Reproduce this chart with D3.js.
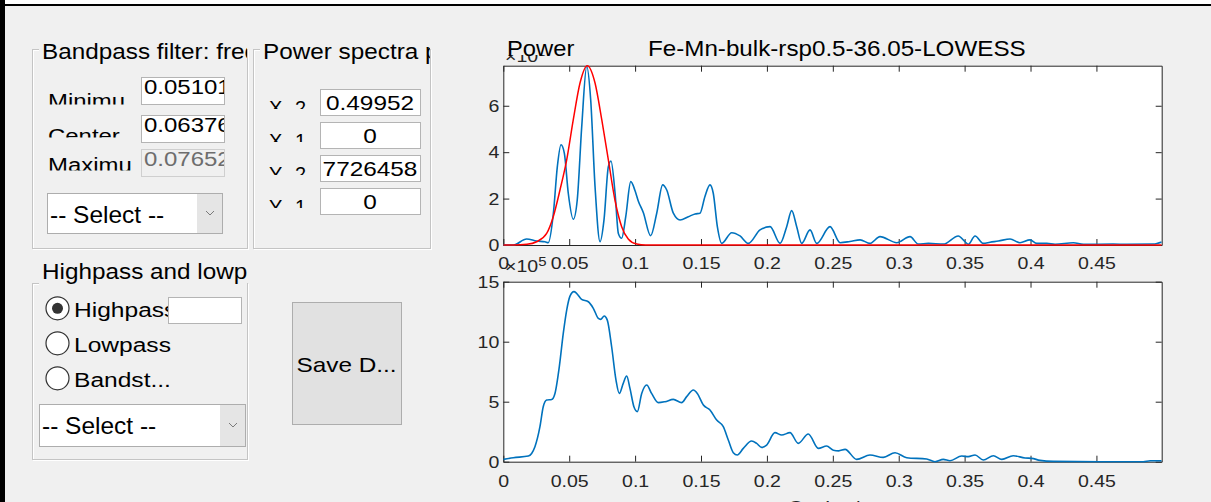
<!DOCTYPE html>
<html><head><meta charset="utf-8">
<script src="https://cdn.jsdelivr.net/npm/d3@7/dist/d3.min.js"></script>
<style>
html,body{margin:0;padding:0;background:#f0f0f0;}
svg{display:block;font-family:"Liberation Sans",Arial,Helvetica,sans-serif;}
</style></head><body>
<svg id="fig" width="1211" height="502"></svg>
<script>
// ---------- data ----------
const freqTicks = [0, 0.05, 0.1, 0.15, 0.2, 0.25, 0.3, 0.35, 0.4, 0.45];
const freqTickLabels = ["0", "0.05", "0.1", "0.15", "0.2", "0.25", "0.3", "0.35", "0.4", "0.45"];
const freqLimits = [0, 0.49952];
const powerLimits = [0, 7.726458];          // x 10^6
const powerTicks = [0, 2, 4, 6];
const smoothLimits = [0, 15];               // x 10^5
const smoothTicks = [0, 5, 10, 15];

// power spectrum (x 10^6)
const powerFreq = [0, 0.0076, 0.0177, 0.0253, 0.0316, 0.0341, 0.038, 0.041, 0.0438, 0.0463,
  0.0493, 0.0531, 0.0561, 0.0595, 0.0633, 0.0663, 0.0696, 0.0734, 0.0764, 0.0797,
  0.0817, 0.0848, 0.0873, 0.0898, 0.0929, 0.0967, 0.0999, 0.1024, 0.1062, 0.1118,
  0.1164, 0.1209, 0.124, 0.129, 0.1341, 0.1404, 0.1455, 0.1492, 0.153, 0.1568,
  0.1593, 0.1624, 0.1657, 0.1733, 0.1796, 0.1859, 0.1948, 0.2024, 0.21, 0.215,
  0.2188, 0.2226, 0.2264, 0.2327, 0.2378, 0.2479, 0.2555, 0.263, 0.2707, 0.2782,
  0.2858, 0.2985, 0.3086, 0.3149, 0.3225, 0.3338, 0.3452, 0.3503, 0.3528, 0.3579,
  0.3642, 0.3693, 0.3756, 0.3845, 0.392, 0.3996, 0.4047, 0.4123, 0.4186, 0.4325,
  0.4401, 0.4626, 0.473, 0.4932, 0.4995];
const powerValues = [0, 0, 0.26, 0.17, 0.14, 0.1, 1.37, 3.38, 4.32, 3.96,
  2.23, 1.11, 1.94, 5.1, 7.7, 6.26, 2.52, 0.14, 1.08, 3.38,
  3.62, 2.23, 0.5, 0.29, 1.22, 2.73, 2.35, 1.9, 1.4, 0.4,
  1.37, 2.59, 2.37, 1.37, 1.08, 1.22, 1.34, 1.37, 2.09, 2.59,
  2.23, 0.79, 0.07, 0.53, 0.39, 0.07, 0.65, 0.79, 0.07, 0.79,
  1.48, 0.79, 0.07, 0.65, 0.07, 0.79, 0.1, 0.15, 0.22, 0.07,
  0.36, 0.1, 0.36, 0.04, 0.07, 0.04, 0.39, 0.14, 0.03, 0.39,
  0.07, 0.12, 0.17, 0.26, 0.1, 0.22, 0.07, 0.07, 0.03, 0.1,
  0.03, 0.04, 0.03, 0.04, 0.13];

// bandpass filter response (x 10^6)
const filterFreq = [0, 0.0076, 0.018, 0.0253, 0.0329, 0.0379, 0.043, 0.0481, 0.0531, 0.0582,
  0.0637, 0.0696, 0.0747, 0.0797, 0.0847, 0.0898, 0.0948, 0.1012, 0.108, 0.49952];
const filterValues = [0, 0, 0.03, 0.14, 0.5, 1.22, 2.37, 3.67, 5.4, 6.98,
  7.726458, 6.98, 5.4, 3.67, 1.94, 0.79, 0.26, 0.04, 0, 0];

// smoothed spectrum (x 10^5)
const smoothFreq = [0, 0.0076, 0.019, 0.0215, 0.024, 0.0278, 0.0303, 0.0329, 0.0367, 0.0392,
  0.0425, 0.0455, 0.0481, 0.0506, 0.0536, 0.0556, 0.0594, 0.0645, 0.0683, 0.0721,
  0.0738, 0.0766, 0.0789, 0.0822, 0.0855, 0.088, 0.091, 0.0936, 0.0961, 0.0991,
  0.1017, 0.105, 0.1088, 0.1125, 0.1176, 0.1227, 0.129, 0.1353, 0.1391, 0.1442,
  0.1472, 0.1518, 0.1568, 0.1619, 0.1669, 0.1707, 0.1745, 0.1775, 0.1821, 0.1884,
  0.1922, 0.196, 0.1998, 0.2061, 0.2112, 0.2175, 0.2238, 0.2314, 0.239, 0.2453,
  0.2504, 0.2545, 0.2593, 0.2681, 0.2782, 0.2883, 0.2972, 0.3061, 0.3212, 0.3275,
  0.3338, 0.3389, 0.3478, 0.3528, 0.3579, 0.3642, 0.3718, 0.3782, 0.3869, 0.3958,
  0.4009, 0.4072, 0.4173, 0.4527, 0.4856, 0.4907, 0.4995];
const smoothValues = [0.19, 0.33, 0.47, 0.69, 1.25, 2.92, 4.58, 5.14, 5.19, 5.69,
  7.92, 10.69, 12.64, 13.8, 14.17, 14.03, 13.53, 13.33, 12.78, 11.94,
  11.86, 12.14, 11.8, 9.58, 6.8, 5.69, 6.53, 7.14, 6.11, 4.58,
  4.17, 5.69, 6.39, 5.69, 4.92, 5.0, 5.19, 4.92, 5.42, 5.97,
  5.69, 4.72, 4.31, 3.47, 2.92, 1.81, 0.75, 0.56, 1.11, 1.72,
  1.53, 1.19, 1.39, 2.42, 2.22, 2.42, 1.53, 2.31, 1.11, 1.31,
  0.95, 0.9, 1.03, 0.19, 0.56, 0.36, 0.75, 0.33, 0.22, 0.0,
  0.19, 0.08, 0.47, 0.42, 0.56, 0.14, 0.5, 0.19, 0.5, 0.31,
  0.28, 0.11, 0.03, 0.0, 0.0, 0.08, 0.08];

// control panel contents
const bandpassLabels = ["Minimu", "Center", "Maximu"];
const bandpassValues = ["0.05101", "0.06376", "0.07652"];
const limitLabels = [["X", "2"], ["X", "1"], ["Y", "2"], ["Y", "1"]];
const limitValues = ["0.49952", "0", "7726458", "0"];
const filterModes = ["Highpass", "Lowpass", "Bandst..."];

// ---------- helpers ----------
const svg = d3.select("#fig");
const defs = svg.append("defs");
let clipId = 0;
function clip(x, y, w, h) {
  const id = "c" + (clipId++);
  defs.append("clipPath").attr("id", id).append("rect")
    .attr("x", x).attr("y", y).attr("width", w).attr("height", h);
  return `url(#${id})`;
}
// text drawn slightly widened horizontally, like the GUI renderer
function txt(parent, x, y, s, o = {}) {
  return parent.append("text")
    .attr("transform", `translate(${x},${y}) scale(${o.sx ?? 1.15},1)`)
    .attr("font-size", o.size ?? 21)
    .attr("text-anchor", o.anchor ?? "start")
    .attr("fill", o.fill ?? "#000")
    .text(s);
}
const BG = "#f0f0f0";

// window background and frame
svg.append("rect").attr("width", 1211).attr("height", 502).attr("fill", BG);
svg.append("rect").attr("width", 1211).attr("height", 4).attr("fill", "#fff");
svg.append("rect").attr("y", 4).attr("width", 1211).attr("height", 2).attr("fill", "#000");
svg.append("rect").attr("width", 5).attr("height", 502).attr("fill", "#000");

// ---------- uipanels ----------
function panel(x, y, w, h, title, titleBaseline) {
  const g = svg.append("g");
  g.append("rect").attr("x", x + 0.5).attr("y", y + 0.5).attr("width", w).attr("height", h)
    .attr("fill", "none").attr("stroke", "#fff");
  g.append("rect").attr("x", x - 0.5).attr("y", y - 0.5).attr("width", w).attr("height", h)
    .attr("fill", "none").attr("stroke", "#c4c4c4");
  const tg = g.append("g").attr("clip-path", clip(x + 6, titleBaseline - 22, w - 7, 30));
  tg.append("rect").attr("x", x + 6).attr("y", titleBaseline - 22).attr("width", w).attr("height", 30).attr("fill", BG);
  txt(tg, x + 9, titleBaseline, title, { size: 21.5, sx: 1.13 });
  return g;
}
function editBox(g, x, y, w, h, value, o = {}) {
  g.append("rect").attr("x", x + 0.5).attr("y", y + 0.5).attr("width", w).attr("height", h)
    .attr("fill", o.disabled ? BG : "#fff").attr("stroke", o.disabled ? "#cfcfcf" : "#b4b4b4");
  if (value !== undefined) {
    const tg = g.append("g").attr("clip-path", clip(x + 1, y + 1, w - 1, h - 1));
    txt(tg, o.anchor === "middle" ? x + w / 2 : x + 3, y + (o.base ?? 17), value,
      { size: o.size ?? 19, sx: o.sx ?? 1.16, anchor: o.anchor ?? "start", fill: o.disabled ? "#6d6d6d" : "#000" });
  }
}
function dropDown(g, x, y, w, h, label) {
  g.append("rect").attr("x", x + 0.5).attr("y", y + 0.5).attr("width", w).attr("height", h)
    .attr("fill", "#fff").attr("stroke", "#adadad");
  g.append("rect").attr("x", x + w - 25).attr("y", y + 1).attr("width", 25).attr("height", h - 1)
    .attr("fill", "#e5e5e5");
  const cx = x + w - 12, cy = y + h / 2;
  g.append("path").attr("d", `M${cx - 4},${cy - 2}L${cx},${cy + 2}L${cx + 4},${cy - 2}`)
    .attr("fill", "none").attr("stroke", "#7a7a7a").attr("stroke-width", 1);
  txt(g, x + 3, y + 30, label, { size: 24, sx: 1.02 });
}

// Bandpass filter panel
const p1 = panel(33, 50, 215, 199, "Bandpass filter: frequency", 59);
const labelTops = [92.7, 128.3, 156.7], labelClipBottom = [104.5, 137.5, 170.5];
const boxTops = [77, 115, 149];
bandpassLabels.forEach((s, i) => {
  const cg = p1.append("g").attr("clip-path", clip(40, labelTops[i] - 5, 95, labelClipBottom[i] - labelTops[i] + 5));
  txt(cg, 48, labelTops[i] + 15, s, { size: 21, sx: 1.14 });
  editBox(p1, 141, boxTops[i], 83, 27, bandpassValues[i], { disabled: i === 2, base: 17, size: 20.5, sx: 1.17 });
});
dropDown(p1, 47, 193, 175, 40, "-- Select --");

// Power spectra plot-limits panel
const p2 = panel(254, 50, 177, 199, "Power spectra plot", 59);
const rowTops = [89, 122, 155, 188];
limitLabels.forEach((pair, i) => {
  const top = rowTops[i] + 11;
  const cg = p2.append("g").attr("clip-path", clip(262, top - 4, 56, 13));
  txt(cg, 269, top + 15, pair[0], { size: 21, sx: 0.95 });
  txt(cg, 295, top + 15, pair[1], { size: 21, sx: 0.95 });
  editBox(p2, 320, rowTops[i], 100, 26, limitValues[i], { anchor: "middle", size: 21, sx: 1.16, base: 21 });
});

// Highpass / lowpass panel
const p3 = panel(33, 284, 215, 176, "Highpass and lowpass", 279);
const radioY = [308.3, 343.3, 378.3];
filterModes.forEach((s, i) => {
  p3.append("circle").attr("cx", 57.5).attr("cy", radioY[i]).attr("r", 11.5)
    .attr("fill", "#fff").attr("stroke", "#333").attr("stroke-width", 1.2);
  if (i === 0) p3.append("circle").attr("cx", 57.5).attr("cy", radioY[i]).attr("r", 5.5).attr("fill", "#333");
  txt(p3, 74, radioY[i] + 8.4, s, { size: 21, sx: 1.17 });
});
editBox(p3, 168, 297, 73, 26);
dropDown(p3, 39, 404, 206, 42, "-- Select --");

// Save button
svg.append("rect").attr("x", 292.5).attr("y", 302.5).attr("width", 109).attr("height", 122)
  .attr("fill", "#e1e1e1").attr("stroke", "#adadad");
txt(svg, 346.5, 372, "Save D...", { size: 21, sx: 1.16, anchor: "middle" });

// ---------- axes ----------
const AX = { left: 503.3, right: 1161.7 };
const x = d3.scaleLinear().domain(freqLimits).range([AX.left, AX.right]);
const yTop = d3.scaleLinear().domain(powerLimits).range([245, 65.7]);
const yBot = d3.scaleLinear().domain(smoothLimits).range([461.7, 281.7]);
const AXIS_COLOR = "#262626";

function drawAxes(y, yTicks, padX) {
  const [y0, y1] = y.range();
  const g = svg.append("g");
  g.append("rect").attr("x", AX.left).attr("y", y1).attr("width", AX.right - AX.left).attr("height", y0 - y1)
    .attr("fill", "#fff");
  const fmtX = (d, i) => freqTickLabels[i];
  const bottom = g.append("g").attr("transform", `translate(0,${y0})`)
    .call(d3.axisBottom(x).tickValues(freqTicks).tickFormat(fmtX).tickSizeInner(-6).tickSizeOuter(0).tickPadding(padX));
  const left = g.append("g").attr("transform", `translate(${AX.left},0)`)
    .call(d3.axisLeft(y).tickValues(yTicks).tickSizeInner(-6).tickSizeOuter(0).tickPadding(3.5));
  const top = g.append("g").attr("transform", `translate(0,${y1})`)
    .call(d3.axisTop(x).tickValues(freqTicks).tickFormat("").tickSizeInner(-6).tickSizeOuter(0));
  const right = g.append("g").attr("transform", `translate(${AX.right},0)`)
    .call(d3.axisRight(y).tickValues(yTicks).tickFormat("").tickSizeInner(-6).tickSizeOuter(0));
  [bottom, left, top, right].forEach(a => {
    a.selectAll("path,line").attr("stroke", AXIS_COLOR);
    a.selectAll("text").attr("fill", AXIS_COLOR).attr("font-size", 17)
      .attr("font-family", '"Liberation Sans",Arial,sans-serif').attr("transform", "scale(1.15,1)");
  });
  return g;
}

function drawLine(y, xs, ys, color, width) {
  const [y0, y1] = y.range();
  const pts = xs.map((d, i) => [d, ys[i]]);
  svg.append("path").datum(pts)
    .attr("clip-path", clip(AX.left, y1 - 1, AX.right - AX.left, y0 - y1 + 2))
    .attr("fill", "none").attr("stroke", color).attr("stroke-width", width).attr("stroke-linejoin", "round")
    .attr("d", d3.line().x(d => x(d[0])).y(d => y(d[1])).curve(d3.curveMonotoneX));
}

// upper axes: power spectrum with bandpass filter
drawAxes(yTop, powerTicks, 12);
drawLine(yTop, powerFreq, powerValues, "#0072BD", 1.6);
drawLine(yTop, filterFreq, filterValues, "#FF0000", 1.5);

// lower axes: smoothed spectrum
drawAxes(yBot, smoothTicks, 13);
drawLine(yBot, smoothFreq, smoothValues, "#0072BD", 1.6);

// exponent labels
function exponent(xp, base, power) {
  const t = svg.append("text").attr("transform", `translate(${xp},${base}) scale(1.15,1)`)
    .attr("font-size", 17).attr("fill", AXIS_COLOR);
  t.append("tspan").text("\u00d710");
  t.append("tspan").attr("dy", -6).attr("font-size", 13).text(power);
}
exponent(505, 61.5, "6");
exponent(505, 271.5, "5");

// titles
svg.append("rect").attr("x", 499).attr("y", 30).attr("width", 90).attr("height", 25).attr("fill", BG);
txt(svg, 507, 56, "Power", { size: 22, sx: 1.08 });
txt(svg, 648, 56, "Fe-Mn-bulk-rsp0.5-36.05-LOWESS", { size: 22, sx: 1.1 });

// x label of the lower axes (only its top shows inside the window)
txt(svg, (AX.left + AX.right) / 2, 514, "Cycles/m", { size: 19, sx: 1.15, anchor: "middle", fill: AXIS_COLOR });
</script></body></html>
